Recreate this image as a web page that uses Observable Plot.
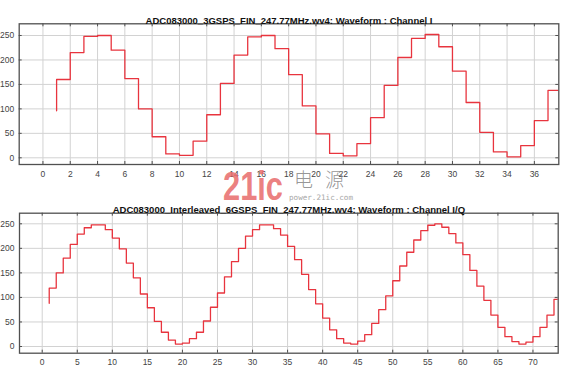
<!DOCTYPE html>
<html><head><meta charset="utf-8">
<script src="https://cdn.jsdelivr.net/npm/d3@7"></script>
<script src="https://cdn.jsdelivr.net/npm/@observablehq/plot@0.6"></script>
<style>
body{margin:0;background:#fff;}
#wrap{position:relative;width:576px;height:369px;overflow:hidden;}
#wrap > svg{display:block;}
#mark{position:absolute;left:0;top:0;pointer-events:none;}
</style></head><body><div id="wrap"></div>
<script>
// ---- data ----
const titleTop = "ADC083000_3GSPS_FIN_247.77MHz.wv4: Waveform : Channel I";
const titleBottom = "ADC083000_Interleaved_6GSPS_FIN_247.77MHz.wv4: Waveform : Channel I/Q";
const firstSample = 1;
const valuesTop = [96,160,215,248,250,220,162,100,43,8,5,34,88,152,210,247,250,223,170,106,49,9,4,29,82,148,205,244,252,227,177,113,52,12,2,25,76,138];
const valuesBottom = [88,119,150,180,208,229,242,248,248,238,221,199,170,140,107,79,51,29,13,5,7,16,29,52,80,109,142,173,200,225,238,248,248,240,227,204,177,147,116,87,58,34,16,7,5,11,24,47,75,103,134,164,192,217,236,247,250,243,230,211,187,155,123,94,64,39,20,10,5,9,20,39,64,96];
const xTicksTop = [0,2,4,6,8,10,12,14,16,18,20,22,24,26,28,30,32,34,36];
const xTicksBottom = [0,5,10,15,20,25,30,35,40,45,50,55,60,65,70];
const yTicks = [0,50,100,150,200,250];

const wrap = document.getElementById("wrap");
const FONT = "'Liberation Sans Narrow','Arial Narrow','Liberation Sans',Arial,sans-serif";
const frameColor = "#505050";

function chart({values, title, titleWidth, xTicks, xDomain, yDomain, height, mt, mr, mb, ml}) {
  const data = values.map((v, i) => ({x: i + firstSample, y: v}));
  const innerH = height - mt - mb;
  const innerW = 576 - ml - mr;
  const svg = Plot.plot({
    width: 576, height,
    marginTop: mt, marginRight: mr, marginBottom: mb, marginLeft: ml,
    x: {domain: xDomain, label: null},
    y: {domain: yDomain, label: null},
    style: {fontFamily: FONT, background: "#fff", overflow: "visible"},
    marks: [
      Plot.gridX(xTicks, {stroke: "#d2d2d2", strokeOpacity: 1}),
      Plot.gridY(yTicks, {stroke: "#d2d2d2", strokeOpacity: 1}),
      Plot.line(data, {x: "x", y: "y", curve: "step-before", stroke: "#e8343e", strokeWidth: 1.3, clip: true}),
      Plot.tickX(xTicks, {x: d => d, stroke: frameColor, insetTop: innerH - 3}),
      Plot.tickX(xTicks, {x: d => d, stroke: frameColor, insetBottom: innerH - 3}),
      Plot.tickY(yTicks, {y: d => d, stroke: frameColor, insetRight: innerW - 3}),
      Plot.tickY(yTicks, {y: d => d, stroke: frameColor, insetLeft: innerW - 3}),
      Plot.frame({stroke: frameColor, strokeWidth: 1.3}),
      Plot.axisX(xTicks, {tickSize: 0, tickPadding: 6, fontSize: 8.5, fill: "#444", label: null}),
      Plot.axisY(yTicks, {tickSize: 0, tickPadding: 5, fontSize: 8.5, fill: "#444", label: null}),
      Plot.text([title], {frameAnchor: "top", dy: -7, fontWeight: "bold", fontSize: 9.5, fill: "#111", ariaLabel: "title", fontFamily: "'Liberation Sans',Arial,sans-serif"})
    ]
  });
  d3.select(svg).selectAll('g[aria-label="title"] text')
    .attr("textLength", titleWidth).attr("lengthAdjust", "spacingAndGlyphs");
  return svg;
}

wrap.appendChild(chart({values: valuesTop, title: titleTop, titleWidth: 247, xTicks: xTicksTop,
  xDomain: [-1.74, 37.79], yDomain: [-13.7, 273.9], height: 188, mt: 23.3, mr: 17.7, mb: 24, ml: 18.7}));
wrap.appendChild(chart({values: valuesBottom, title: titleBottom, titleWidth: 306, xTicks: xTicksBottom,
  xDomain: [-3.24, 73.6], yDomain: [-13.65, 271.6], height: 181, mt: 24.7, mr: 18.3, mb: 16.3, ml: 19}));

// watermark overlay
const ns = "http://www.w3.org/2000/svg";
const wm = d3.select(wrap).append("svg").attr("id", "mark").attr("width", 576).attr("height", 369);
wm.append("text").attr("x", 223).attr("y", 200).attr("font-family", "'Liberation Sans',Arial,sans-serif")
  .attr("font-weight", "bold").attr("font-size", 40).attr("fill", "#e86a6a").attr("fill-opacity", 0.85)
  .attr("textLength", 60).attr("lengthAdjust", "spacingAndGlyphs").text("21ic");
wm.append("text").attr("x", 294).attr("y", 187).attr("font-family", "'Noto Sans CJK SC',sans-serif")
  .attr("font-size", 19).attr("font-weight", 300).attr("fill", "#8a8a8a").attr("fill-opacity", 0.9)
  .attr("textLength", 50).attr("lengthAdjust", "spacing").text("电源");
wm.append("text").attr("x", 289).attr("y", 200).attr("font-family", "'DejaVu Sans Mono',monospace")
  .attr("font-size", 7.5).attr("fill", "#a8a8a8")
  .attr("textLength", 64).attr("lengthAdjust", "spacingAndGlyphs").text("power.21ic.com");
</script></body></html>
